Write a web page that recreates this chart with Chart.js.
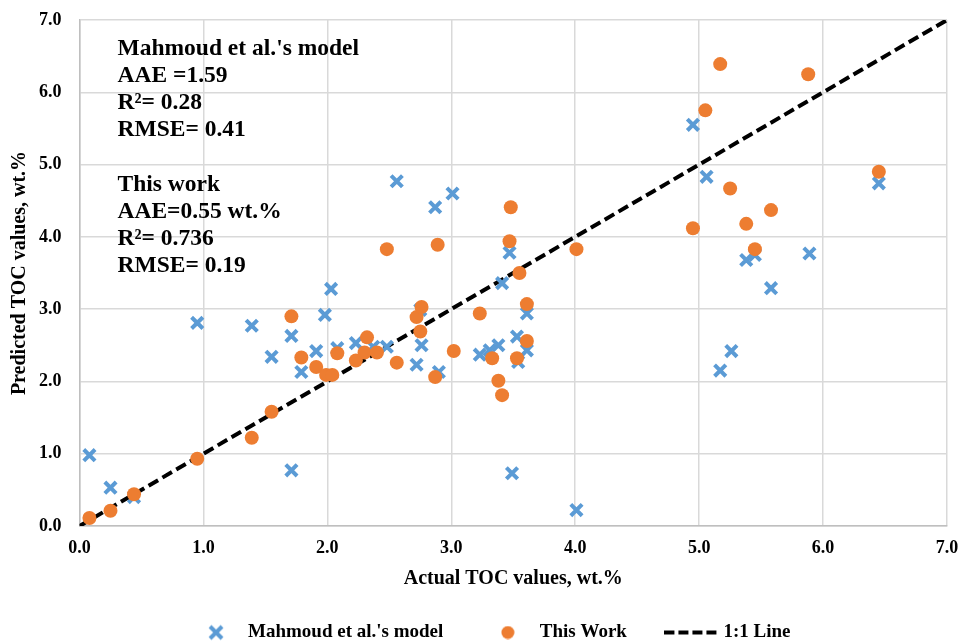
<!DOCTYPE html>
<html>
<head>
<meta charset="utf-8">
<script src="https://cdn.jsdelivr.net/npm/chart.js@4.4.1/dist/chart.umd.min.js"></script>
<style>
  html, body { margin: 0; padding: 0; background: #fff; }
  #wrap { width: 964px; height: 644px; position: relative; }
</style>
</head>
<body>
<div id="wrap"><canvas id="c" width="964" height="644"></canvas></div>
<script>
// ---------- data ----------
const seriesNames = ["Mahmoud et al.'s model", "This Work", "1:1 Line"];

const mahmoudActual = [0.08, 0.25, 0.44, 0.95, 1.39, 1.55, 1.71, 1.71, 1.79, 1.91, 1.98, 2.03, 2.08, 2.23, 2.37, 2.48, 2.56, 2.72, 2.75, 2.76, 2.87, 2.90, 3.01, 3.23, 3.31, 3.38, 3.41, 3.47, 3.49, 3.53, 3.54, 3.61, 3.61, 4.01, 4.95, 5.06, 5.17, 5.26, 5.38, 5.45, 5.58, 5.89, 6.45];
const mahmoudPredicted = [0.98, 0.53, 0.40, 2.81, 2.77, 2.34, 2.63, 0.77, 2.13, 2.42, 2.92, 3.28, 2.46, 2.53, 2.48, 2.48, 4.77, 2.23, 2.99, 2.50, 4.41, 2.13, 4.60, 2.37, 2.43, 2.50, 3.36, 3.78, 0.73, 2.62, 2.27, 2.94, 2.43, 0.22, 5.55, 4.83, 2.15, 2.42, 3.68, 3.75, 3.29, 3.77, 4.74];

const thisWorkActual = [0.08, 0.25, 0.44, 0.95, 1.39, 1.55, 1.71, 1.79, 1.91, 1.99, 2.04, 2.08, 2.23, 2.30, 2.32, 2.40, 2.48, 2.56, 2.72, 2.75, 2.76, 2.87, 2.89, 3.02, 3.23, 3.33, 3.38, 3.41, 3.48, 3.47, 3.55, 3.61, 3.61, 3.53, 4.01, 4.95, 5.05, 5.17, 5.25, 5.38, 5.45, 5.58, 5.88, 6.45];
const thisWorkPredicted = [0.11, 0.21, 0.44, 0.93, 1.22, 1.58, 2.90, 2.33, 2.20, 2.09, 2.09, 2.39, 2.29, 2.40, 2.61, 2.40, 3.83, 2.26, 2.89, 2.69, 3.03, 2.06, 3.89, 2.42, 2.94, 2.32, 2.01, 1.81, 4.41, 3.94, 3.50, 3.07, 2.56, 2.32, 3.83, 4.12, 5.75, 6.39, 4.67, 4.18, 3.83, 4.37, 6.25, 4.90];

const identityX = [0, 7];
const identityY = [0, 7];

const axisTicks = [0, 1, 2, 3, 4, 5, 6, 7];

const xTitle = "Actual TOC values, wt.%";
const yTitle = "Predicted TOC values, wt.%";

const noteLines = [
  "Mahmoud et al.'s model",
  "AAE =1.59",
  "R\u00B2= 0.28",
  "RMSE= 0.41",
  "",
  "This work",
  "AAE=0.55 wt.%",
  "R\u00B2= 0.736",
  "RMSE= 0.19"
];

// ---------- styles ----------
const BLUE = '#5B9BD5';
const ORANGE = '#ED7D31';
const SERIF = '"Liberation Serif", "Times New Roman", serif';

function toPoints(xs, ys) { return xs.map((x, i) => ({ x: x, y: ys[i] })); }

function makeCanvas(w, h, draw) {
  const c = document.createElement('canvas');
  c.width = w; c.height = h;
  draw(c.getContext('2d'));
  return c;
}
const legendX = makeCanvas(18, 18, ctx => {
  ctx.strokeStyle = BLUE; ctx.lineWidth = 4;
  ctx.beginPath(); ctx.moveTo(3, 3); ctx.lineTo(15, 15); ctx.moveTo(15, 3); ctx.lineTo(3, 15); ctx.stroke();
});
const legendO = makeCanvas(14, 14, ctx => {
  ctx.fillStyle = ORANGE; ctx.beginPath(); ctx.arc(7, 7, 6.5, 0, Math.PI * 2); ctx.fill();
});
const legendL = makeCanvas(54, 6, ctx => {
  ctx.strokeStyle = '#000'; ctx.lineWidth = 4; ctx.setLineDash([10, 4]);
  ctx.beginPath(); ctx.moveTo(0, 3); ctx.lineTo(54, 3); ctx.stroke();
});
const legendImgs = [legendX, legendO, legendL];

const notesPlugin = {
  id: 'notes',
  afterDatasetsDraw(chart) {
    const { ctx, chartArea } = chart;
    ctx.save();
    ctx.font = 'bold 23.5px ' + SERIF;
    ctx.fillStyle = '#000';
    ctx.textBaseline = 'alphabetic';
    ctx.textAlign = 'left';
    noteLines.forEach((t, i) => {
      if (t) ctx.fillText(t, chartArea.left + 38, chartArea.top + 35 + i * 27.1);
    });
    ctx.restore();
  }
};

const tickFont = { family: SERIF, size: 18, weight: 'bold' };
const titleFont = { family: SERIF, size: 20, weight: 'bold' };

new Chart(document.getElementById('c'), {
  type: 'scatter',
  data: {
    datasets: [
      {
        label: seriesNames[0],
        data: toPoints(mahmoudActual, mahmoudPredicted),
        pointStyle: 'crossRot',
        pointRadius: 8,
        pointBorderWidth: 4,
        borderColor: BLUE,
        backgroundColor: BLUE,
        order: 1
      },
      {
        label: seriesNames[1],
        data: toPoints(thisWorkActual, thisWorkPredicted),
        pointStyle: 'circle',
        pointRadius: 7,
        pointBorderWidth: 0,
        borderColor: ORANGE,
        backgroundColor: ORANGE,
        order: 0
      },
      {
        label: seriesNames[2],
        type: 'line',
        data: toPoints(identityX, identityY),
        borderColor: '#000',
        backgroundColor: '#000',
        borderWidth: 4,
        borderDash: [11, 5],
        pointRadius: 0,
        showLine: true,
        fill: false,
        order: 2
      }
    ]
  },
  options: {
    responsive: false,
    animation: false,
    layout: { autoPadding: false, padding: { left: 20, right: 0, top: 20, bottom: -8 } },
    plugins: {
      tooltip: { enabled: false },
      legend: {
        position: 'bottom',
        labels: {
          usePointStyle: true,
          pointStyleWidth: 45,
          boxHeight: 12,
          padding: 42,
          color: '#000',
          font: { family: SERIF, size: 19, weight: 'bold' },
          sort: (a, b) => a.datasetIndex - b.datasetIndex,
          generateLabels(chart) {
            const items = Chart.defaults.plugins.legend.labels.generateLabels(chart);
            items.forEach(it => { it.pointStyle = legendImgs[it.datasetIndex]; });
            return items;
          }
        }
      }
    },
    scales: {
      x: {
        type: 'linear',
        min: 0, max: 7,
        afterBuildTicks(scale) { scale.ticks = axisTicks.map(v => ({ value: v })); },
        afterFit(scale) { scale.paddingRight = 17; scale.height = 55; },
        ticks: { font: tickFont, color: '#000', padding: 12, callback: v => Number(v).toFixed(1) },
        grid: { color: '#D9D9D9', lineWidth: 1.5, drawTicks: false },
        border: { color: '#BFBFBF', width: 1.5 },
        title: { display: true, text: xTitle, font: titleFont, color: '#000', padding: { top: 7, bottom: -10 } }
      },
      y: {
        type: 'linear',
        min: 0, max: 7,
        afterBuildTicks(scale) { scale.ticks = axisTicks.map(v => ({ value: v })); },
        afterFit(scale) { scale.paddingTop = 0; scale.width = 59.5; },
        ticks: { font: tickFont, color: '#000', padding: 18, callback: v => Number(v).toFixed(1) },
        grid: { color: '#D9D9D9', lineWidth: 1.5, drawTicks: false },
        border: { color: '#BFBFBF', width: 1.5 },
        title: { display: true, text: yTitle, font: titleFont, color: '#000', padding: { top: -12, bottom: 7 } }
      }
    }
  },
  plugins: [notesPlugin]
});
</script>
</body>
</html>
